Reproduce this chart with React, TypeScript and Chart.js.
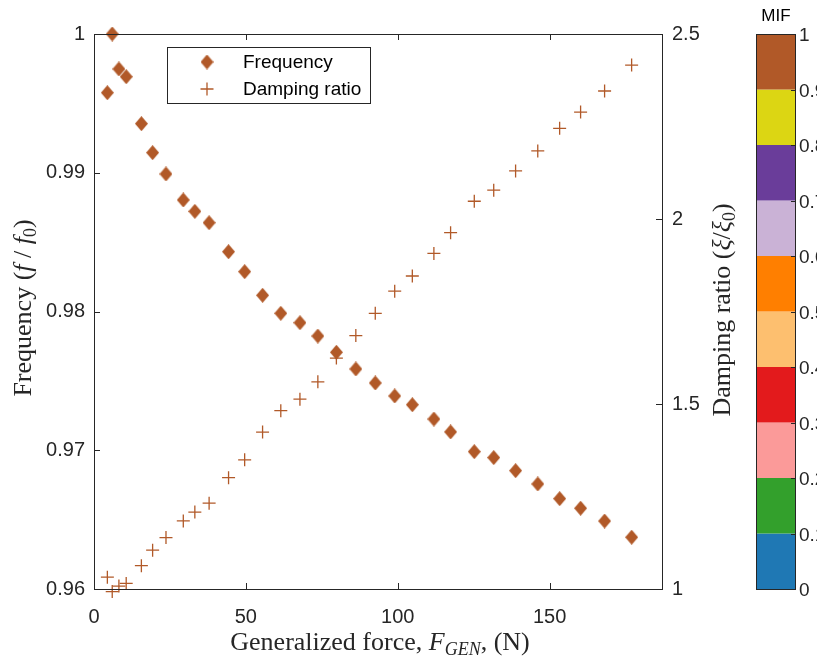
import React, { useEffect, useRef } from "react";
import { Chart, registerables } from "chart.js";
Chart.register(...registerables);

// ---------- data ----------
const force = [4.4, 6.0, 8.2, 10.6, 15.6, 19.3, 23.7, 29.4, 33.2, 37.9, 44.3, 49.6, 55.5, 61.5, 67.8, 73.7, 79.8, 86.2, 92.6, 99.0, 104.8, 111.9, 117.4, 125.2, 131.6, 138.8, 146.1, 153.3, 160.2, 168.1, 177.0];
const frequency = [0.99577, 1.0, 0.99748, 0.99692, 0.99354, 0.99145, 0.98991, 0.98804, 0.98722, 0.9864, 0.98431, 0.98287, 0.98117, 0.97987, 0.97919, 0.97823, 0.97706, 0.97586, 0.97485, 0.97391, 0.97328, 0.97225, 0.97132, 0.9699, 0.96947, 0.96853, 0.96757, 0.96651, 0.96582, 0.9649, 0.96373];
const damping = [1.032, 0.993, 1.008, 1.015, 1.063, 1.105, 1.139, 1.184, 1.208, 1.232, 1.301, 1.349, 1.424, 1.482, 1.513, 1.56, 1.624, 1.685, 1.745, 1.805, 1.846, 1.907, 1.963, 2.048, 2.078, 2.13, 2.184, 2.245, 2.289, 2.346, 2.416];

const xTicks = [0, 50, 100, 150];
const freqTicks = [0.96, 0.97, 0.98, 0.99, 1];
const dampTicks = [1, 1.5, 2, 2.5];
const mifTicks = [0, 0.1, 0.2, 0.3, 0.4, 0.5, 0.6, 0.7, 0.8, 0.9, 1];
const mifColors = ["#1f78b4", "#33a02c", "#fb9a99", "#e31a1c", "#fdbf6f", "#ff7f00", "#cab2d6", "#6a3d9a", "#dcd613", "#b15928"];
const seriesLabels = ["Frequency", "Damping ratio"];

const MARK = "#b15928";
const AX = "#262626";
const SANS = '"Liberation Sans", Arial, sans-serif';
const SERIF = '"Liberation Serif", "Times New Roman", serif';

type Run = { t: string; it?: boolean; sub?: boolean };

function drawRich(ctx: CanvasRenderingContext2D, runs: Run[], cx: number, cy: number, size: number, rotate: boolean) {
  ctx.save();
  ctx.translate(cx, cy);
  if (rotate) ctx.rotate(-Math.PI / 2);
  const fontFor = (r: Run) => `${r.it ? "italic " : ""}${r.sub ? Math.round(size * 0.7) : size}px ${SERIF}`;
  let w = 0;
  for (const r of runs) {
    ctx.font = fontFor(r);
    w += ctx.measureText(r.t).width;
  }
  let x = -w / 2;
  ctx.textAlign = "left";
  ctx.textBaseline = "alphabetic";
  ctx.fillStyle = AX;
  const base = size * 0.33;
  for (const r of runs) {
    ctx.font = fontFor(r);
    ctx.fillText(r.t, x, base + (r.sub ? size * 0.22 : 0));
    x += ctx.measureText(r.t).width;
  }
  ctx.restore();
}

export default function App() {
  const ref = useRef<HTMLCanvasElement>(null);
  useEffect(() => {
    document.body.style.margin = "0";
    const diamond = document.createElement("canvas");
    diamond.width = 13;
    diamond.height = 15;
    const dc = diamond.getContext("2d")!;
    dc.fillStyle = MARK;
    dc.beginPath();
    dc.moveTo(6.5, 0);
    dc.lineTo(13, 7.5);
    dc.lineTo(6.5, 15);
    dc.lineTo(0, 7.5);
    dc.closePath();
    dc.fill();

    const decor = {
      id: "decor",
      afterDraw(chart: any) {
        const ctx: CanvasRenderingContext2D = chart.ctx;
        const a = chart.chartArea;
        const sx = chart.scales.x, sy = chart.scales.y, sy1 = chart.scales.y1;
        ctx.save();
        ctx.strokeStyle = AX;
        ctx.lineWidth = 1;
        ctx.strokeRect(Math.round(a.left) + 0.5, Math.round(a.top) + 0.5, Math.round(a.right - a.left), Math.round(a.bottom - a.top));
        const tl = 6;
        ctx.beginPath();
        for (const v of xTicks) {
          const px = Math.round(sx.getPixelForValue(v)) + 0.5;
          ctx.moveTo(px, a.bottom); ctx.lineTo(px, a.bottom - tl);
          ctx.moveTo(px, a.top); ctx.lineTo(px, a.top + tl);
        }
        for (const v of freqTicks) {
          const py = Math.round(sy.getPixelForValue(v)) + 0.5;
          ctx.moveTo(a.left, py); ctx.lineTo(a.left + tl, py);
        }
        for (const v of dampTicks) {
          const py = Math.round(sy1.getPixelForValue(v)) + 0.5;
          ctx.moveTo(a.right, py); ctx.lineTo(a.right - tl, py);
        }
        ctx.stroke();

        // legend
        ctx.strokeStyle = AX;
        ctx.fillStyle = "#fff";
        ctx.fillRect(167.5, 47.5, 203, 56);
        ctx.strokeRect(167.5, 47.5, 203, 56);
        ctx.drawImage(diamond, 207 - 6.5, 62 - 7.5);
        ctx.strokeStyle = MARK;
        ctx.lineWidth = 1.3;
        ctx.beginPath();
        ctx.moveTo(207 - 6.5, 89); ctx.lineTo(207 + 6.5, 89);
        ctx.moveTo(207, 89 - 6.5); ctx.lineTo(207, 89 + 6.5);
        ctx.stroke();
        ctx.fillStyle = "#000";
        ctx.font = `19px ${SANS}`;
        ctx.textAlign = "left";
        ctx.textBaseline = "middle";
        ctx.fillText(seriesLabels[0], 243, 63);
        ctx.fillText(seriesLabels[1], 243, 90);

        // axis titles
        const ts = 26;
        drawRich(ctx, [{ t: "Frequency (" }, { t: "f", it: true }, { t: " / " }, { t: "f", it: true }, { t: "0", sub: true }, { t: ")" }], 22, 308, ts, true);
        drawRich(ctx, [{ t: "Damping ratio (" }, { t: "ξ", it: true }, { t: "/" }, { t: "ξ", it: true }, { t: "0", sub: true }, { t: ")" }], 721, 310, ts, true);
        drawRich(ctx, [{ t: "Generalized force, " }, { t: "F", it: true }, { t: "GEN", it: true, sub: true }, { t: ", (N)" }], 380, 641, ts, false);

        // colorbar
        const cbL = 756, cbR = 795, cbT = a.top, cbB = a.bottom;
        const vy = (v: number) => cbB - v * (cbB - cbT);
        for (let i = 0; i < mifColors.length; i++) {
          ctx.fillStyle = mifColors[i];
          const y0 = vy(mifTicks[i + 1]);
          const y1 = vy(mifTicks[i]);
          ctx.fillRect(cbL, y0, cbR - cbL, y1 - y0);
        }
        ctx.strokeStyle = AX;
        ctx.lineWidth = 1;
        ctx.strokeRect(cbL + 0.5, Math.round(cbT) + 0.5, cbR - cbL, Math.round(cbB - cbT));
        ctx.beginPath();
        for (const v of mifTicks) {
          const py = Math.round(vy(v)) + 0.5;
          ctx.moveTo(cbR, py); ctx.lineTo(cbR - 4, py);
        }
        ctx.stroke();
        ctx.fillStyle = AX;
        ctx.font = `19px ${SANS}`;
        ctx.textAlign = "left";
        ctx.textBaseline = "middle";
        for (const v of mifTicks) {
          ctx.fillText(String(v), 799, vy(v) + 2);
        }
        ctx.font = `17px ${SANS}`;
        ctx.textAlign = "center";
        ctx.fillStyle = "#000";
        ctx.fillText("MIF", 776, 16);
        ctx.restore();
      },
    };

    const tickFont = { family: SANS, size: 20 };
    const chart = new Chart(ref.current!, {
      type: "scatter",
      data: {
        datasets: [
          {
            label: seriesLabels[0],
            data: force.map((x, i) => ({ x, y: frequency[i] })),
            yAxisID: "y",
            pointStyle: diamond as any,
            backgroundColor: MARK,
            borderColor: MARK,
            clip: false as any,
          },
          {
            label: seriesLabels[1],
            data: force.map((x, i) => ({ x, y: damping[i] })),
            yAxisID: "y1",
            pointStyle: "cross",
            pointRadius: 6.5,
            borderColor: MARK,
            backgroundColor: MARK,
            borderWidth: 1.3,
            clip: false as any,
          },
        ],
      },
      options: {
        responsive: false,
        animation: false,
        devicePixelRatio: 1,
        layout: { padding: { top: 34, left: 0, right: 0, bottom: 0 } },
        plugins: { legend: { display: false }, tooltip: { enabled: false } },
        scales: {
          x: {
            type: "linear",
            position: "bottom",
            min: 0,
            max: 187,
            grid: { display: false, drawTicks: false },
            border: { display: false },
            ticks: { font: tickFont, color: AX, padding: 16, maxRotation: 0, callback: (v: any) => String(v) },
            afterBuildTicks: (s: any) => { s.ticks = xTicks.map((value) => ({ value })); },
            afterFit: (s: any) => { s.height = 70; },
          },
          y: {
            type: "linear",
            position: "left",
            min: 0.96,
            max: 1,
            grid: { display: false, drawTicks: false },
            border: { display: false },
            ticks: { font: tickFont, color: AX, padding: 9, callback: (v: any) => String(v) },
            afterBuildTicks: (s: any) => { s.ticks = freqTicks.map((value) => ({ value })); },
            afterFit: (s: any) => { s.width = 94; },
          },
          y1: {
            type: "linear",
            position: "right",
            min: 1,
            max: 2.5,
            grid: { display: false, drawTicks: false },
            border: { display: false },
            ticks: { font: tickFont, color: AX, padding: 10, callback: (v: any) => String(v) },
            afterBuildTicks: (s: any) => { s.ticks = dampTicks.map((value) => ({ value })); },
            afterFit: (s: any) => { s.width = 155; },
          },
        },
      },
      plugins: [decor],
    });
    return () => chart.destroy();
  }, []);
  return (
    <div style={{ width: 817, height: 659, position: "relative", background: "#fff" }}>
      <canvas ref={ref} width={817} height={659} style={{ display: "block" }} />
    </div>
  );
}
